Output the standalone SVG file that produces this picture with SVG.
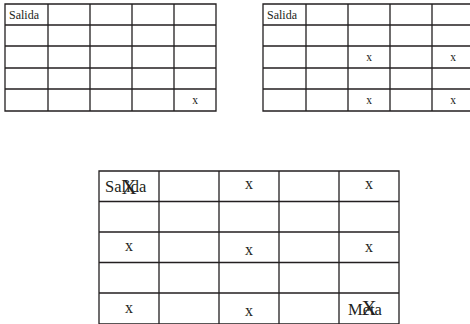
<svg xmlns="http://www.w3.org/2000/svg" width="470" height="324" viewBox="0 0 470 324">
<style>
.g{fill:none;stroke:#231f20;stroke-width:1.3}
.t{font-family:"Liberation Serif",serif;fill:#231f20}
.s{font-size:12px}
.xs{font-size:11.5px;text-anchor:middle}
.b{font-size:16.5px}
.xb{font-size:16px;text-anchor:middle}
.X{font-size:21px;text-anchor:middle;fill:#231f20;font-family:"Liberation Serif",serif}
</style>
<rect width="470" height="324" fill="#fff"/>
<g id="tabla1">
<path class="g" d="M5,4H216V111H5Z M48,4V111 M90,4V111 M132,4V111 M174,4V111 M5,25H216 M5,46H216 M5,68H216 M5,89H216"/>
<text class="t s" x="9" y="19">Salida</text>
<text class="t xs" x="195" y="104">x</text>
</g>
<g id="tabla2">
<path class="g" d="M474,4H263V111H474 M306,4V111 M348,4V111 M390,4V111 M432,4V111 M263,25H474 M263,46H474 M263,68H474 M263,89H474"/>
<text class="t s" x="267" y="19">Salida</text>
<text class="t xs" x="369" y="61">x</text>
<text class="t xs" x="453" y="61">x</text>
<text class="t xs" x="369" y="104">x</text>
<text class="t xs" x="453" y="104">x</text>
</g>
<g id="tabla3">
<path class="g" d="M99,171H399V324H99Z M159,171V324 M219,171V324 M279,171V324 M339,171V324 M99,201.5H399 M99,232H399 M99,262.5H399 M99,293H399"/>
<text class="t b" x="105" y="192">Salida</text>
<text class="X" x="129" y="194">X</text>
<text class="t xb" x="249" y="189">x</text>
<text class="t xb" x="369" y="189">x</text>
<text class="t xb" x="129" y="251">x</text>
<text class="t xb" x="249" y="255">x</text>
<text class="t xb" x="369" y="252">x</text>
<text class="t xb" x="129" y="313">x</text>
<text class="t xb" x="249" y="316">x</text>
<text class="t b" x="348" y="315">Meta</text>
<text class="X" x="369" y="315">X</text>
</g>
</svg>
